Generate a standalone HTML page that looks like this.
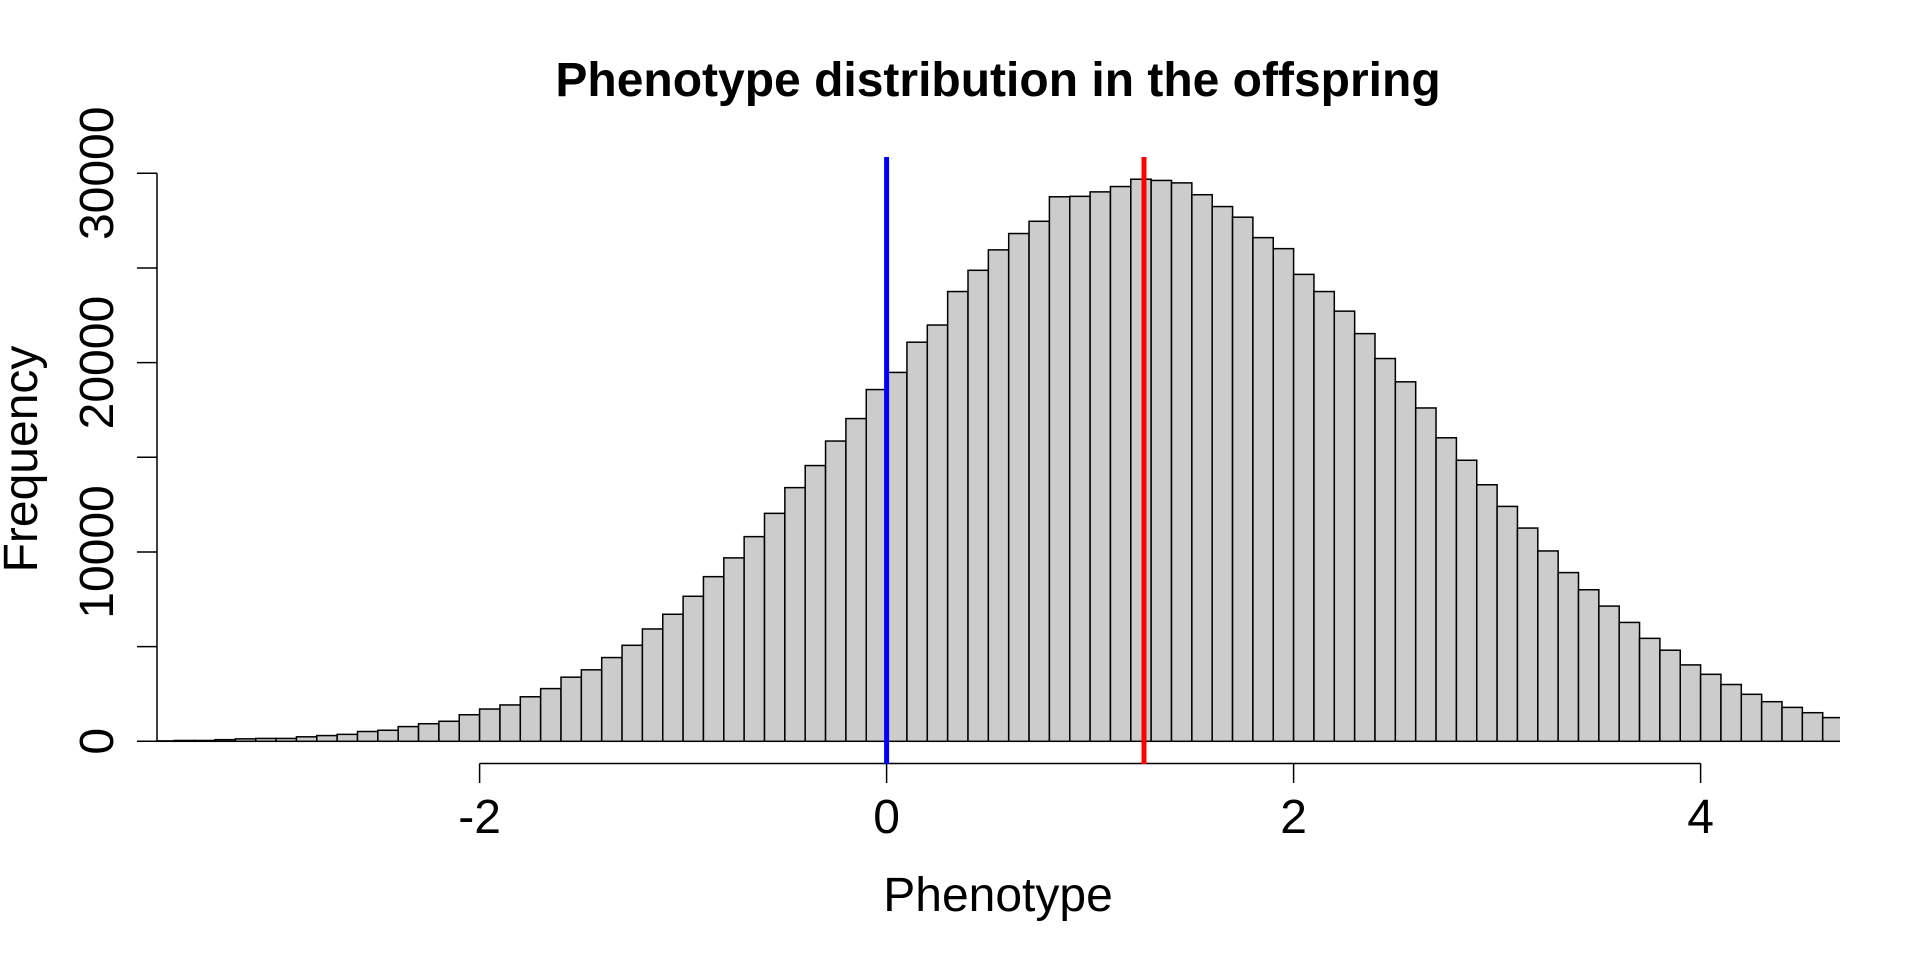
<!DOCTYPE html>
<html><head><meta charset="utf-8"><style>
html,body{margin:0;padding:0;background:#fff}
svg{display:block}
text{font-family:"Liberation Sans",Arial,sans-serif;fill:#000}
</style></head><body>
<svg id="s" width="1920" height="960" viewBox="0 0 1920 960" xmlns="http://www.w3.org/2000/svg">
<rect width="1920" height="960" fill="#fff"/>
<defs><clipPath id="c"><rect x="157" y="0" width="1683" height="960"/></clipPath></defs>
<g id="bars" clip-path="url(#c)"></g>
<g stroke="#000" stroke-width="1.5" fill="none">
<line x1="157" y1="173.3" x2="157" y2="741.3"/>
<line x1="137" y1="741.3" x2="157" y2="741.3"/>
<line x1="137" y1="646.6" x2="157" y2="646.6"/>
<line x1="137" y1="552" x2="157" y2="552"/>
<line x1="137" y1="457.3" x2="157" y2="457.3"/>
<line x1="137" y1="362.6" x2="157" y2="362.6"/>
<line x1="137" y1="268" x2="157" y2="268"/>
<line x1="137" y1="173.3" x2="157" y2="173.3"/>
<line x1="479.6" y1="763.5" x2="1700.6" y2="763.5"/>
<line x1="479.6" y1="763.5" x2="479.6" y2="783"/>
<line x1="886.6" y1="763.5" x2="886.6" y2="783"/>
<line x1="1293.6" y1="763.5" x2="1293.6" y2="783"/>
<line x1="1700.6" y1="763.5" x2="1700.6" y2="783"/>
</g>
<line x1="886.6" y1="157" x2="886.6" y2="764" stroke="#0000ff" stroke-width="5"/>
<line x1="1144" y1="157" x2="1144" y2="764" stroke="#ff0000" stroke-width="5"/>
<g font-size="48" text-anchor="middle">
<text x="479.6" y="833">-2</text>
<text x="886.6" y="833">0</text>
<text x="1293.6" y="833">2</text>
<text x="1700.6" y="833">4</text>
<text x="998" y="911">Phenotype</text>
<text transform="translate(113,741.3) rotate(-90)">0</text>
<text transform="translate(113,552) rotate(-90)">10000</text>
<text transform="translate(113,362.6) rotate(-90)">20000</text>
<text transform="translate(113,173.3) rotate(-90)">30000</text>
<text transform="translate(37,459) rotate(-90)">Frequency</text>
<text x="998" y="96" font-weight="bold">Phenotype distribution in the offspring</text>
</g>
</svg>
<script>
var yz=[1472,1471,1471,1469,1467,1466,1466,1462,1459,1456,1449,1446,1437,1430,1424,1408,1394,1384,1364,1344,1316,1298,1268,1238,1198,1162,1118,1070,1024,972,915,852,798,738,683,612,570,
496,454,372,320,270,230,200,140,139,128,115,97,100,106,135,164,190,240,267,330,372,420,475,536,593,657,730,785,845,898,951,1007,1060,1102,1142,1182,1221,1250,1286,1309,1334,1358,1376,1390,1403,1415];
var g=document.getElementById('bars'),ns='http://www.w3.org/2000/svg',u=203.5,z=886.6,b=741.3;
for(var i=0;i<yz.length;i++){var x0=z+(-3.6+i*0.1)*u,h=(1473-yz[i])*0.4085;
var r=document.createElementNS(ns,'rect');r.setAttribute('x',x0.toFixed(2));r.setAttribute('y',(b-h).toFixed(2));
r.setAttribute('width',(0.1*u).toFixed(2));r.setAttribute('height',h.toFixed(2));r.setAttribute('fill','#cccccc');
r.setAttribute('stroke','#000');r.setAttribute('stroke-width','1.5');g.appendChild(r);}
</script>
</body></html>
